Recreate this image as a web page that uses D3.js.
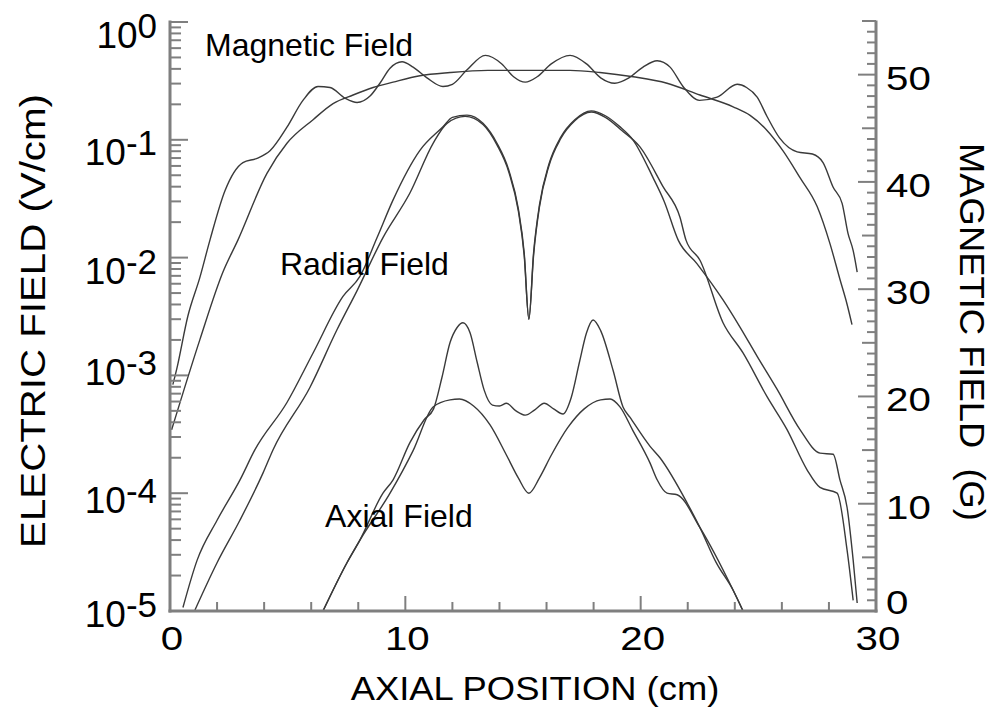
<!DOCTYPE html>
<html>
<head>
<meta charset="utf-8">
<script src="https://cdn.jsdelivr.net/npm/d3@7"></script>
<style>
  html, body { margin: 0; padding: 0; background: #fff; }
  svg { display: block; }
  text { font-family: "Liberation Sans", Arial, Helvetica, sans-serif; fill: #000; }
</style>
</head>
<body>
<svg id="chart" width="992" height="711"></svg>
<script>
// Axial position (cm) and field values for each traced curve

// Magnetic field, oscillating profile (G)
const magOscX = [0.12,0.28,0.76,1.27,1.70,2.34,3.10,3.70,4.25,4.97,5.65,6.29,6.80,7.44,7.95,8.50,8.92,9.35,9.86,10.33,10.92,11.6,12.0,12.6,13.4,14.1,14.6,15.1,15.6,16.2,17.0,17.7,18.3,18.9,19.5,20.1,20.7,21.25,21.8,22.5,23.25,24.1,24.5,24.95,25.37,25.9,26.65,27.3,27.75,28.18,28.56,28.81,29.03,29.2];
const magOscB = [21.1,22.5,27.5,31.1,34.6,39.2,41.8,42.2,42.9,45.1,47.6,48.9,48.8,47.8,47.4,48.0,49.2,50.6,51.2,50.7,49.7,48.9,49.1,50.4,51.8,51.0,49.8,49.3,49.8,51.0,51.8,51.0,49.7,49.2,49.7,50.7,51.3,50.7,48.9,47.6,47.9,49.1,48.8,47.9,46.1,44.1,42.8,42.6,41.8,39.5,38.0,35.2,33.6,31.6];

// Magnetic field, smooth profile (G)
const magSmoothX = [0.07,1.27,2.25,2.89,4.12,4.97,6.08,6.93,7.78,8.63,9.48,10.62,11.9,13.5,15.26,17.0,18.27,19.68,21.12,22.52,23.93,24.65,25.37,26.05,26.77,27.5,28.05,28.47,28.77,28.98];
const magSmoothB = [16.9,25.3,31.6,34.6,40.8,43.6,45.8,47.3,48.1,48.8,49.3,49.9,50.2,50.4,50.4,50.4,50.2,49.8,49.2,48.1,47.0,46.2,44.8,42.9,40.4,37.7,34.2,30.9,28.6,26.7];

// Radial electric field, first profile (V/cm)
const radialAX = [0.55,1.15,2.0,2.97,3.61,4.97,6.08,7.35,8.07,8.80,9.48,10.62,11.6,12.0,12.62,13.3,13.9,14.4,14.8,15.05,15.25,15.45,15.7,16.1,16.6,17.2,17.9,18.5,19.1,19.67,20.52,21.0,21.6,22.39,23.5,24.22,24.95,25.8,26.77,27.62,28.18,28.47,28.77,29.03,29.2];
const radialAV = [1.07e-5,2.69e-5,5.89e-5,1.29e-4,2.34e-4,5.89e-4,1.55e-3,4.68e-3,6.92e-3,1.48e-2,3.09e-2,8.13e-2,1.29e-1,1.55e-1,1.62e-1,1.38e-1,9.3e-2,5.5e-2,2.6e-2,1.1e-2,3.0e-3,1.1e-2,2.8e-2,6.2e-2,1.05e-1,1.48e-1,1.76e-1,1.6e-1,1.3e-1,1.0e-1,4.8e-2,3.0e-2,1.4e-2,8.9e-3,4.37e-3,2.57e-3,1.45e-3,7.6e-4,3.47e-4,2.19e-4,2.14e-4,1.29e-4,7.6e-5,2.7e-5,1.17e-5];

// Radial electric field, second profile (V/cm)
const radialBX = [1.06,2.0,2.97,3.95,4.38,5.95,7.1,7.95,9.05,10.2,11.18,11.77,12.54,13.3,13.9,14.4,14.8,15.05,15.25,15.45,15.7,16.1,16.6,17.2,17.9,18.5,19.2,19.97,20.95,21.67,21.93,22.52,23.5,24.35,25.37,26.22,27.07,27.62,28.35,28.77,29.03];
const radialBV = [1.02e-5,2.57e-5,5.89e-5,1.48e-4,2.34e-4,7.94e-4,2.45e-3,5.25e-3,1.48e-2,3.55e-2,9.33e-2,1.38e-1,1.58e-1,1.35e-1,9.0e-2,5.3e-2,2.5e-2,1.05e-2,3.0e-3,1.05e-2,2.7e-2,6.0e-2,1.02e-1,1.45e-1,1.72e-1,1.55e-1,1.2e-1,8.7e-2,4.0e-2,2.2e-2,1.4e-2,9.5e-3,2.8e-3,1.55e-3,6.6e-4,3.47e-4,1.58e-4,1.12e-4,1.0e-4,3.3e-5,1.23e-5];

// Axial electric field, peaked profile (V/cm)
const axialAX = [6.5,7.52,8.07,9.05,9.48,10.2,10.8,11.2,11.55,11.9,12.2,12.45,12.75,13.05,13.35,13.7,14.0,14.3,14.7,15.1,15.5,15.9,16.3,16.7,17.05,17.4,17.7,17.98,18.3,18.83,19.25,19.55,20.4,20.82,21.97,22.52,23.2,23.93,24.35];
const axialAV = [1.0e-5,2.57e-5,4.0e-5,1.0e-4,1.3e-4,2.7e-4,4.2e-4,5.2e-4,9.5e-4,1.9e-3,2.55e-3,2.8e-3,2.3e-3,1.3e-3,7.5e-4,5.6e-4,5.5e-4,5.8e-4,5.0e-4,4.6e-4,5.1e-4,5.8e-4,5.2e-4,4.7e-4,6.5e-4,1.3e-3,2.3e-3,2.95e-3,2.4e-3,1.1e-3,5.4e-4,4.4e-4,2.5e-4,2.0e-4,8.3e-5,5.1e-5,2.6e-5,1.5e-5,1.0e-5];

// Axial electric field, smooth profile (V/cm)
const axialBX = [6.5,7.52,8.07,9.35,10.33,11.18,11.9,12.3,12.9,13.6,14.3,14.8,15.25,15.7,16.2,16.9,17.6,18.3,18.7,19.12,19.67,20.4,20.7,21.12,21.55,22.52,23.93,24.35];
const axialBV = [1.0e-5,2.57e-5,4.0e-5,1.0e-4,2.3e-4,5.4e-4,6.2e-4,6.3e-4,5.5e-4,3.8e-4,2.1e-4,1.35e-4,1.0e-4,1.35e-4,2.1e-4,3.6e-4,5.2e-4,6.2e-4,6.3e-4,5.4e-4,3.4e-4,1.8e-4,1.3e-4,1.0e-4,9.7e-5,5.1e-5,1.5e-5,1.0e-5];

// Axis ticks and curve labels
const xTicks = [0, 10, 20, 30];
const logExponents = [0, -1, -2, -3, -4, -5];
const bTicks = [0, 10, 20, 30, 40, 50];
const curveLabels = [
  { text: "Magnetic Field", x: 1.49, v: 0.518 },
  { text: "Radial Field", x: 4.67, v: 7.1e-3 },
  { text: "Axial Field", x: 6.59, v: 5.2e-5 }
];

const svg = d3.select("#chart");
const axisColor = "#7f7f7f";
const lineColor = "#3a3a3a";

const x = d3.scaleLinear().domain([0, 30]).range([170, 876]);
const yE = d3.scaleLog().domain([1e-5, 1]).range([611, 22]);
const yB = d3.scaleLinear().domain([0, 55]).range([611, 21]);

// Curves
const lineE = d3.line().x(d => x(d[0])).y(d => yE(d[1])).curve(d3.curveMonotoneX);
const lineB = d3.line().x(d => x(d[0])).y(d => yB(d[1])).curve(d3.curveMonotoneX);
const zip = (a, b) => a.map((v, i) => [v, b[i]]);

const curves = svg.append("g").attr("fill", "none").attr("stroke", lineColor)
  .attr("stroke-width", 1.4).attr("stroke-linejoin", "round");
curves.append("path").attr("d", lineB(zip(magOscX, magOscB)));
curves.append("path").attr("d", lineB(zip(magSmoothX, magSmoothB)));
curves.append("path").attr("d", lineE(zip(radialAX, radialAV)));
curves.append("path").attr("d", lineE(zip(radialBX, radialBV)));
curves.append("path").attr("d", lineE(zip(axialAX, axialAV)));
curves.append("path").attr("d", lineE(zip(axialBX, axialBV)));

// Axes
const axes = svg.append("g").attr("stroke", axisColor);

// bottom axis: ticks every 2 cm, long ticks at labelled values
axes.append("line").attr("x1", x(0) - 1.5).attr("x2", x(30) + 1.5)
  .attr("y1", 611).attr("y2", 611).attr("stroke-width", 3);
axes.selectAll(".xt").data(d3.range(0, 31, 2)).join("line")
  .attr("x1", d => x(d)).attr("x2", d => x(d))
  .attr("y1", 611).attr("y2", d => d % 10 === 0 ? 596 : 602)
  .attr("stroke-width", 2);

// left log axis with 2..9 minor ticks
axes.append("line").attr("x1", 170).attr("x2", 170)
  .attr("y1", 20.5).attr("y2", 612.5).attr("stroke-width", 3);
const logTicks = [];
for (let e = -5; e <= 0; e++) {
  logTicks.push({ v: Math.pow(10, e), major: true });
  if (e < 0) for (let m = 2; m <= 9; m++) logTicks.push({ v: m * Math.pow(10, e), major: false });
}
axes.selectAll(".yt").data(logTicks).join("line")
  .attr("x1", 170).attr("x2", d => d.major ? 188 : 181)
  .attr("y1", d => yE(d.v)).attr("y2", d => yE(d.v))
  .attr("stroke-width", 2);

// right linear axis, ticks every 1 G
axes.append("line").attr("x1", 876).attr("x2", 876)
  .attr("y1", 20.5).attr("y2", 612.5).attr("stroke-width", 3);
axes.selectAll(".bt").data(d3.range(0, 56, 1)).join("line")
  .attr("x1", 876).attr("x2", d => d % 10 === 0 ? 858 : (d % 5 === 0 ? 862 : 867))
  .attr("y1", d => yB(d)).attr("y2", d => yB(d))
  .attr("stroke-width", 2);

// Tick labels (numerals are set slightly wide)
const numStretch = 1.22;
svg.selectAll(".xl").data(xTicks).join("text")
  .attr("transform", d => `translate(${x(d) + 2},650) scale(${numStretch},1)`)
  .attr("text-anchor", "middle").attr("font-size", 33)
  .text(d => d);

// vertical nudges of the decade labels
const logLabelShift = { "0": 26, "-1": 25, "-2": 26, "-3": 10, "-4": 20, "-5": 16 };
const yl = svg.selectAll(".yl").data(logExponents).join("text")
  .attr("x", 157).attr("y", d => yE(Math.pow(10, d)) + logLabelShift[d])
  .attr("text-anchor", "end").attr("font-size", 37);
yl.append("tspan").text("10");
yl.append("tspan").attr("dy", -10).attr("font-size", 35).text(d => d);

svg.selectAll(".bl").data(bTicks).join("text")
  .attr("transform", d => `translate(886,${yB(d) + (d === 0 ? 3 : 15)}) scale(${numStretch},1)`)
  .attr("font-size", 33)
  .text(d => d);

// Axis titles
svg.append("text")
  .attr("transform", "translate(535,700) scale(1.12,1)")
  .attr("text-anchor", "middle").attr("font-size", 32.5)
  .text("AXIAL POSITION (cm)");
svg.append("text")
  .attr("transform", "translate(45,321) rotate(-90) scale(1.15,1)")
  .attr("text-anchor", "middle").attr("font-size", 35)
  .text("ELECTRIC FIELD (V/cm)");
svg.append("text")
  .attr("transform", "translate(960,332) rotate(90) scale(1.04,1)")
  .attr("text-anchor", "middle").attr("font-size", 35)
  .attr("xml:space", "preserve")
  .text("MAGNETIC FIELD  (G)");

// Curve labels
svg.selectAll(".cl").data(curveLabels).join("text")
  .attr("x", d => x(d.x)).attr("y", d => yE(d.v))
  .attr("font-size", 32)
  .text(d => d.text);
</script>
</body>
</html>
